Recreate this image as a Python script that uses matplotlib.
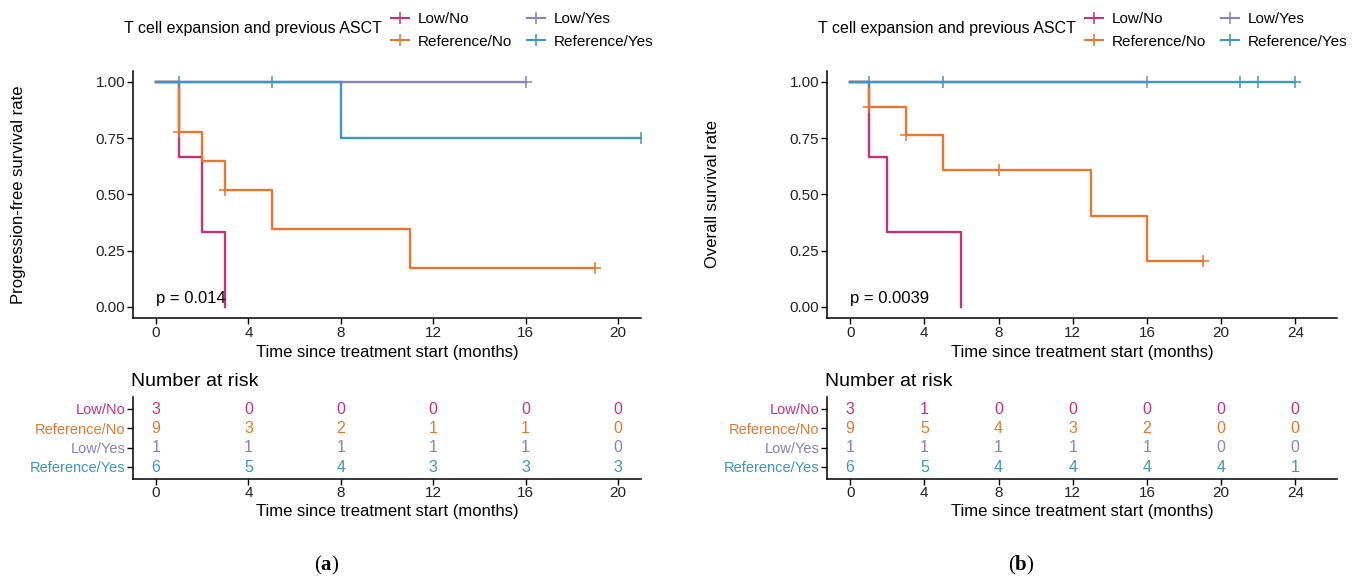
import numpy as np
import matplotlib
matplotlib.use("Agg")
import matplotlib.pyplot as plt
from matplotlib.lines import Line2D

plt.rcParams["font.family"] = ["Liberation Sans", "DejaVu Sans"]
plt.rcParams["mathtext.fontset"] = "custom"
plt.rcParams["mathtext.bf"] = "Liberation Serif:bold"

groups = ["Low/No", "Reference/No", "Low/Yes", "Reference/Yes"]
colors = ["#C2327F", "#E8772B", "#8A82B8", "#3C96BF"]

# --- (a) progression-free survival: step times / levels, censor marks
pfs_low_no_t = [0, 1, 2, 3]
pfs_low_no_s = [1.0, 0.667, 0.333, 0.0]
pfs_low_no_ct = []
pfs_low_no_cs = []

pfs_ref_no_t = [0, 1, 2, 3, 5, 11, 19]
pfs_ref_no_s = [1.0, 0.778, 0.648, 0.518, 0.346, 0.173, 0.173]
pfs_ref_no_ct = [1, 3, 19]
pfs_ref_no_cs = [0.778, 0.518, 0.173]

pfs_low_yes_t = [0, 16]
pfs_low_yes_s = [1.0, 1.0]
pfs_low_yes_ct = [16]
pfs_low_yes_cs = [1.0]

pfs_ref_yes_t = [0, 8, 21]
pfs_ref_yes_s = [1.0, 0.75, 0.75]
pfs_ref_yes_ct = [1, 5, 21]
pfs_ref_yes_cs = [1.0, 1.0, 0.75]

pfs_risk_times = [0, 4, 8, 12, 16, 20]
pfs_risk_low_no = [3, 0, 0, 0, 0, 0]
pfs_risk_ref_no = [9, 3, 2, 1, 1, 0]
pfs_risk_low_yes = [1, 1, 1, 1, 1, 0]
pfs_risk_ref_yes = [6, 5, 4, 3, 3, 3]

# --- (b) overall survival
os_low_no_t = [0, 1, 2, 6]
os_low_no_s = [1.0, 0.667, 0.333, 0.0]
os_low_no_ct = []
os_low_no_cs = []

os_ref_no_t = [0, 1, 3, 5, 13, 16, 19]
os_ref_no_s = [1.0, 0.889, 0.762, 0.610, 0.406, 0.203, 0.203]
os_ref_no_ct = [1, 3, 8, 19]
os_ref_no_cs = [0.889, 0.762, 0.610, 0.203]

os_low_yes_t = [0, 16]
os_low_yes_s = [1.0, 1.0]
os_low_yes_ct = [16]
os_low_yes_cs = [1.0]

os_ref_yes_t = [0, 24]
os_ref_yes_s = [1.0, 1.0]
os_ref_yes_ct = [1, 5, 21, 22, 24]
os_ref_yes_cs = [1.0, 1.0, 1.0, 1.0, 1.0]

os_risk_times = [0, 4, 8, 12, 16, 20, 24]
os_risk_low_no = [3, 1, 0, 0, 0, 0, 0]
os_risk_ref_no = [9, 5, 4, 3, 2, 0, 0]
os_risk_low_yes = [1, 1, 1, 1, 1, 0, 0]
os_risk_ref_yes = [6, 5, 4, 4, 4, 4, 1]

W, H = 1355, 579
fig = plt.figure(figsize=(W / 100, H / 100), dpi=100)


def box(left, top, right, bottom):
    return [left / W, 1 - bottom / H, (right - left) / W, (bottom - top) / H]


def style(ax):
    for s in ("top", "right"):
        ax.spines[s].set_visible(False)
    for s in ("left", "bottom"):
        ax.spines[s].set_linewidth(1.1)
    ax.tick_params(length=4, width=1.0, labelsize=11, colors="black",
                   labelcolor="#222222", pad=1.5)


def panel(x0, x1, ylabel, pval, xmax, curves, risk_times, risk, tag):
    xlim = (-0.05 * xmax, 1.05 * xmax)
    ax = fig.add_axes(box(x0, 70.75, x1, 318))
    for (t, s, ct, cs), c in zip(curves, colors):
        ax.step(t, s, where="post", color=c, lw=1.7)
        if ct:
            ax.plot(ct, cs, ls="none", marker="+", color=c, ms=8, mew=1.1)
    ax.set_xlim(*xlim)
    ax.set_ylim(-0.05, 1.05)
    ax.set_xticks(risk_times)
    ax.set_yticks([0, 0.25, 0.5, 0.75, 1.0])
    ax.set_yticklabels(["0.00", "0.25", "0.50", "0.75", "1.00"])
    ax.set_xlabel("Time since treatment start (months)", fontsize=12, labelpad=3.5)
    ax.set_ylabel(ylabel, fontsize=12)
    ax.yaxis.set_label_coords(-107 / (x1 - x0), 0.5)
    ax.text(0, 0.035, pval, fontsize=12, ha="left", va="center")
    style(ax)

    tb = fig.add_axes(box(x0, 397.4, x1, 478.6))
    ypos = [4, 3, 2, 1]
    for row, y, c in zip(risk, ypos, colors):
        for t, n in zip(risk_times, row):
            tb.text(t, y, str(n), color=c, fontsize=11.5, ha="center", va="center")
    tb.set_xlim(*xlim)
    tb.set_ylim(0.4, 4.6)
    tb.set_xticks(risk_times)
    tb.set_yticks(ypos)
    tb.set_yticklabels(groups)
    style(tb)
    tb.tick_params(axis="y", labelsize=10.5)
    for lab, c in zip(tb.get_yticklabels(), colors):
        lab.set_color(c)
    tb.set_xlabel("Time since treatment start (months)", fontsize=12, labelpad=3)
    tb.set_title("Number at risk", fontsize=14, loc="left", pad=8, x=-0.003)

    cx = x0 + 194
    fig.text(cx / W, 1 - 565 / H, "(" + r"$\mathbf{" + tag + "}$" + ")",
             fontsize=15, family="Liberation Serif", ha="center", va="center")

    handles = [Line2D([], [], color=c, lw=1.5, marker="|", ms=9, mew=1.1)
               for c in colors]
    fig.legend(handles, groups, ncol=2, loc="center left",
               bbox_to_anchor=((x0 + 258) / W, 1 - 30.5 / H), frameon=False,
               fontsize=11, handlelength=1.15, handletextpad=0.6,
               columnspacing=1.0, labelspacing=0.55, borderpad=0,
               borderaxespad=0)
    fig.text((x0 + 249) / W, 1 - 29 / H, "T cell expansion and previous ASCT",
             fontsize=11.5, ha="right", va="center")


pfs_curves = [
    (pfs_low_no_t, pfs_low_no_s, pfs_low_no_ct, pfs_low_no_cs),
    (pfs_ref_no_t, pfs_ref_no_s, pfs_ref_no_ct, pfs_ref_no_cs),
    (pfs_low_yes_t, pfs_low_yes_s, pfs_low_yes_ct, pfs_low_yes_cs),
    (pfs_ref_yes_t, pfs_ref_yes_s, pfs_ref_yes_ct, pfs_ref_yes_cs),
]
os_curves = [
    (os_low_no_t, os_low_no_s, os_low_no_ct, os_low_no_cs),
    (os_ref_no_t, os_ref_no_s, os_ref_no_ct, os_ref_no_cs),
    (os_low_yes_t, os_low_yes_s, os_low_yes_ct, os_low_yes_cs),
    (os_ref_yes_t, os_ref_yes_s, os_ref_yes_ct, os_ref_yes_cs),
]

panel(133, 641, "Progression-free survival rate", "p = 0.014", 20, pfs_curves,
      pfs_risk_times,
      [pfs_risk_low_no, pfs_risk_ref_no, pfs_risk_low_yes, pfs_risk_ref_yes], "a")
panel(827, 1337, "Overall survival rate", "p = 0.0039", 25, os_curves,
      os_risk_times,
      [os_risk_low_no, os_risk_ref_no, os_risk_low_yes, os_risk_ref_yes], "b")

fig.savefig("out.png", dpi=100)
